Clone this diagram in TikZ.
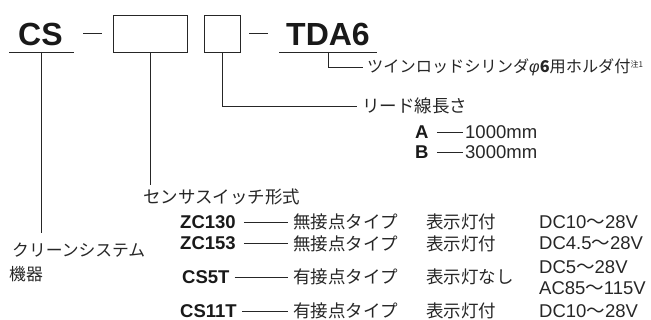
\documentclass[tikz,border=0pt]{standalone}
\usepackage{fontspec}
\setmainfont{Liberation Sans}
\newfontfamily\jp{Noto Sans CJK JP}
\begin{document}
\begin{tikzpicture}[x=1pt,y=-1pt,
  big/.style={font=\bfseries\fontsize{32}{32}\selectfont, inner sep=0pt, anchor=base west, text=black!90},
  jtx/.style={font=\jp\fontsize{17.5}{18}\selectfont, inner sep=0pt, anchor=base west, text=black!85},
  jsm/.style={font=\jp\fontsize{16.8}{17}\selectfont, inner sep=0pt, anchor=base west, text=black!85},
  jnote/.style={font=\jp\fontsize{16.2}{17}\selectfont, inner sep=0pt, anchor=base west, text=black!85},
  ltx/.style={font=\fontsize{18.5}{18.5}\selectfont, inner sep=0pt, anchor=base west, text=black!85},
  code/.style={font=\bfseries\fontsize{18.5}{18.5}\selectfont, inner sep=0pt, anchor=base west, text=black!90},
  ln/.style={line width=0.9pt, draw=black!85},
  box/.style={draw=black!85, line width=0.9pt, minimum height=37pt, inner sep=0pt}
]
\useasboundingbox (0,0) rectangle (651,320);
% --- top row
\node[big] (cs) at (18,45.5) {CS};
\coordinate (csL) at (9,52);
\coordinate (csR) at (74,52);
\draw[ln] (csL) -- (csR);
\coordinate (d1a) at (83,33); \coordinate (d1b) at (102,33);
\draw[ln] (d1a) -- (d1b);
\node[box, minimum width=74pt] (b1) at (150,33.5) {};
\node[box, minimum width=36pt] (b2) at (222,33.5) {};
\coordinate (d2a) at (249,33); \coordinate (d2b) at (268,33);
\draw[ln] (d2a) -- (d2b);
\node[big] (tda) at (286,45.5) {TDA6};
\coordinate (tdL) at (279,52);
\coordinate (tdR) at (377,52);
\draw[ln] (tdL) -- (tdR);
% --- TDA6 branch
\coordinate (tdB) at (328,52);
\node[jnote] (twin) at (367,73) {ツインロッドシリンダ{\fontspec{Liberation Sans}\itshape φ}{\bfseries 6}用ホルダ付\raisebox{5pt}{\fontsize{8}{8}\selectfont 注1}};
\draw[ln] (tdB) |- ([xshift=-4pt]twin.west);
% --- lead wire branch
\node[jtx] (lead) at (362,113) {リード線長さ};
\draw[ln] (b2.south) |- ([xshift=-5pt]lead.west);
\node[code] (la) at (415,138.5) {A};
\node[ltx] (la2) at (465,138.5) {1000mm};
\draw[ln] ([xshift=8pt]la.east |- la2.west) -- ([xshift=-2pt]la2.west);
\node[code] (lb) at (415,158.5) {B};
\node[ltx] (lb2) at (465,158.5) {3000mm};
\draw[ln] ([xshift=8pt]lb.east |- lb2.west) -- ([xshift=-2pt]lb2.west);
% --- sensor switch branch
\coordinate (b1end) at (150.7,185);
\draw[ln] (b1.south -| b1end) -- (b1end);
\node[jtx] (sen) at (143,203.5) {センサスイッチ形式};
% rows
\node[code] (r1) at (180,228.5) {ZC130};
\node[jtx] (r1a) at (293,228.7) {無接点タイプ};
\node[jtx] (r1b) at (426,228.7) {表示灯付};
\node[ltx] (r1c) at (539,228.5) {DC10{\jp 〜}28V};
\draw[ln] ([xshift=8pt]r1.east) -- ([xshift=-5pt]r1.east -| r1a.west);

\node[code] (r2) at (180,250) {ZC153};
\node[jtx] (r2a) at (293,250.2) {無接点タイプ};
\node[jtx] (r2b) at (426,250.2) {表示灯付};
\node[ltx] (r2c) at (539,250) {DC4.5{\jp 〜}28V};
\draw[ln] ([xshift=8pt]r2.east) -- ([xshift=-5pt]r2.east -| r2a.west);

\node[code] (r3) at (182,283.5) {CS5T};
\node[jtx] (r3a) at (293,283.7) {有接点タイプ};
\node[jtx] (r3b) at (426,283.7) {表示灯なし};
\node[ltx] (r3c) at (539,273.5) {DC5{\jp 〜}28V};
\node[ltx] (r3d) at (539,294.5) {AC85{\jp 〜}115V};
\draw[ln] ([xshift=5pt]r3.east) -- ([xshift=-5pt]r3.east -| r3a.west);

\node[code] (r4) at (180,317.5) {CS11T};
\node[jtx] (r4a) at (293,317.7) {有接点タイプ};
\node[jtx] (r4b) at (426,317.7) {表示灯付};
\node[ltx] (r4c) at (539,317.5) {DC10{\jp 〜}28V};
\draw[ln] ([xshift=5pt]r4.east) -- ([xshift=-5pt]r4.east -| r4a.west);
% --- CS branch
\coordinate (csB) at (41.7,52);
\coordinate (csEnd) at (41.7,233);
\draw[ln] (csB) -- (csEnd);
\node[jsm] (cl1) at (12,256.5) {クリーンシステム};
\node[jsm] (cl2) at (9,280.5) {機器};
\end{tikzpicture}
\end{document}
